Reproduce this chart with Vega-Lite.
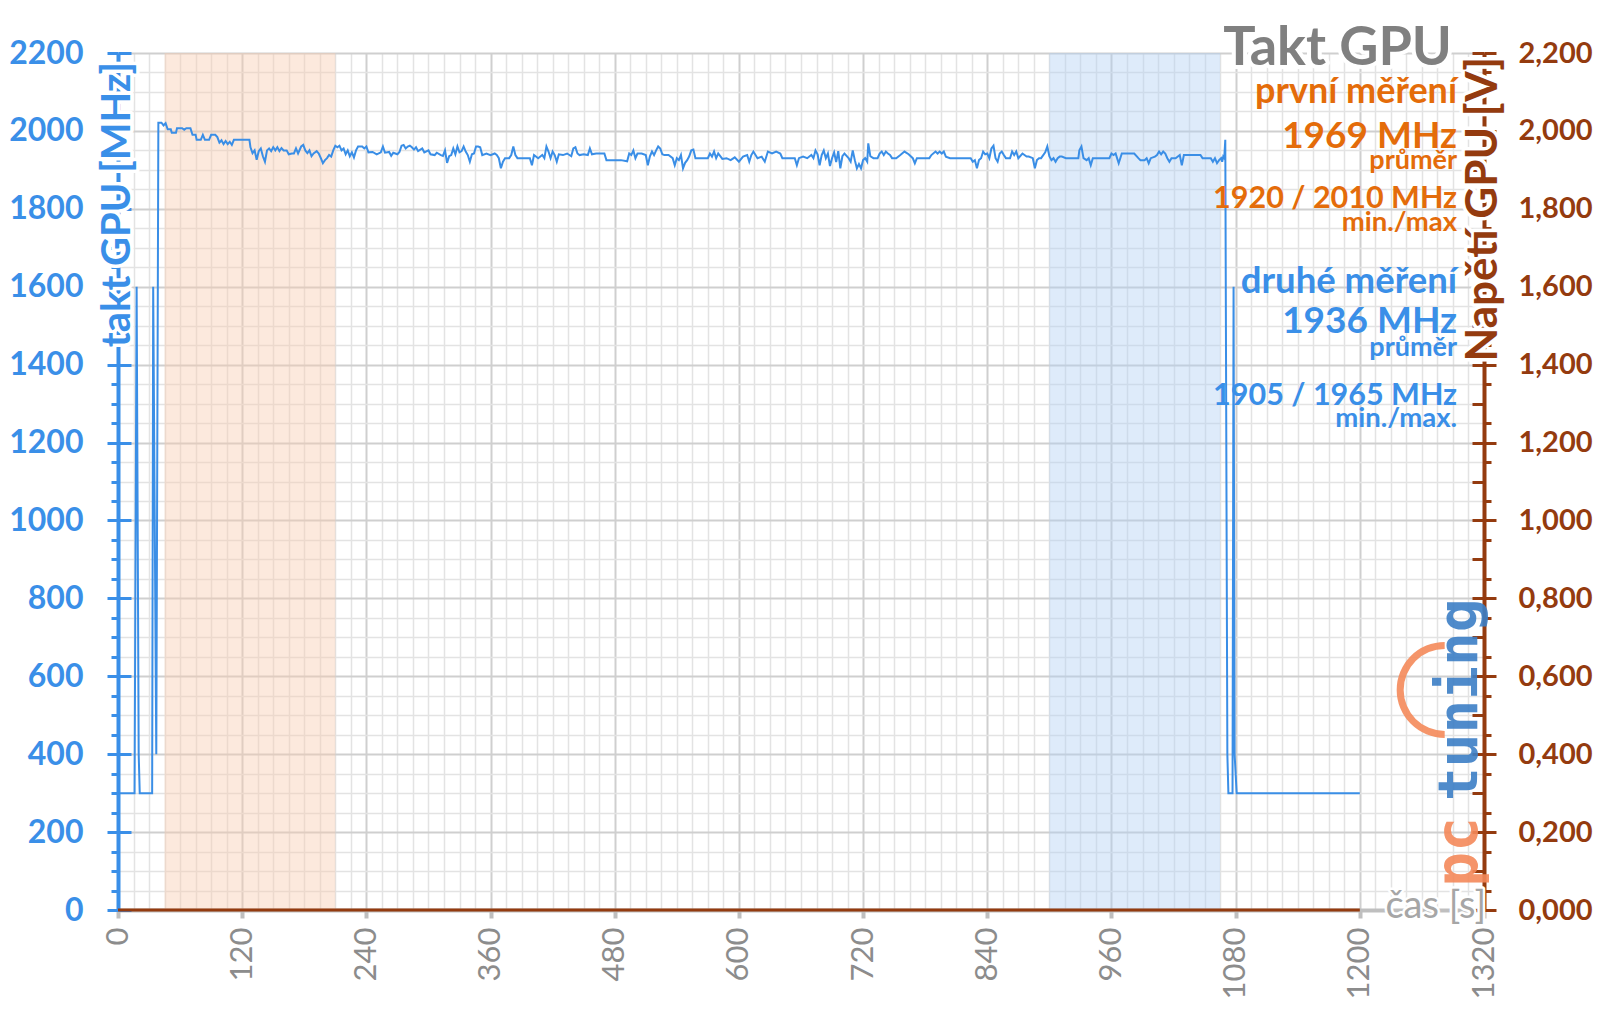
{
"$schema": "https://vega.github.io/schema/vega-lite/v6.json",
"width": 1366, "height": 857,
"autosize": {"type": "none"},
"padding": {"left": 118, "top": 53, "right": 116, "bottom": 99},
"background": "white",
"config": {"font": "Lato", "view": {"stroke": null}},
"datasets": {
"clock": [
{"t":0,"f":300},{"t":16,"f":300},{"t":18,"f":1600},{"t":20,"f":400},{"t":21,"f":300},{"t":33,"f":300},{"t":34,"f":1600},{"t":37,"f":400},{"t":39,"f":2021},
{"t":42,"f":2021},{"t":44,"f":2014},{"t":46,"f":2020},{"t":48,"f":2004},{"t":51,"f":2004},{"t":52,"f":1995},{"t":56,"f":1995},{"t":57,"f":2007},{"t":62,"f":2007},{"t":64,"f":2003},{"t":66,"f":2007},{"t":70,"f":2007},{"t":72,"f":1990},{"t":75,"f":1990},{"t":76,"f":1977},{"t":80,"f":1977},{"t":82,"f":1990},{"t":84,"f":1977},{"t":88,"f":1977},{"t":90,"f":1990},{"t":94,"f":1990},{"t":96,"f":1984},{"t":98,"f":1970},{"t":100,"f":1976},{"t":102,"f":1966},{"t":104,"f":1974},{"t":106,"f":1966},{"t":108,"f":1972},{"t":110,"f":1964},{"t":112,"f":1977},{"t":116,"f":1977},{"t":120,"f":1977},{"t":124,"f":1977},{"t":127,"f":1977},
{"t":128,"f":1958},{"t":130,"f":1943},{"t":132,"f":1950},{"t":134,"f":1926},{"t":136,"f":1948},{"t":138,"f":1955},{"t":140,"f":1935},{"t":142,"f":1921},{"t":144,"f":1950},{"t":146,"f":1955},{"t":148,"f":1948},{"t":150,"f":1958},{"t":152,"f":1950},{"t":154,"f":1958},{"t":156,"f":1948},{"t":158,"f":1956},{"t":160,"f":1950},{"t":163,"f":1950},{"t":165,"f":1940},{"t":168,"f":1942},{"t":170,"f":1942},{"t":172,"f":1955},{"t":174,"f":1942},{"t":177,"f":1960},{"t":179,"f":1964},{"t":181,"f":1950},{"t":183,"f":1943},{"t":185,"f":1950},{"t":187,"f":1935},{"t":189,"f":1942},{"t":192,"f":1948},{"t":194,"f":1942},{"t":196,"f":1930},{"t":198,"f":1917},{"t":200,"f":1925},{"t":202,"f":1930},{"t":204,"f":1938},{"t":206,"f":1934},{"t":208,"f":1950},{"t":210,"f":1962},{"t":212,"f":1958},{"t":214,"f":1962},{"t":216,"f":1950},{"t":218,"f":1955},{"t":220,"f":1940},{"t":222,"f":1950},{"t":224,"f":1935},{"t":226,"f":1945},{"t":228,"f":1932},{"t":230,"f":1950},{"t":232,"f":1960},{"t":236,"f":1960},{"t":238,"f":1955},{"t":240,"f":1960},{"t":242,"f":1945},{"t":246,"f":1946},{"t":250,"f":1940},{"t":254,"f":1945},{"t":256,"f":1960},{"t":258,"f":1944},{"t":262,"f":1946},{"t":264,"f":1936},{"t":266,"f":1944},{"t":270,"f":1940},{"t":272,"f":1946},{"t":274,"f":1962},{"t":276,"f":1964},{"t":278,"f":1955},{"t":280,"f":1960},{"t":282,"f":1962},{"t":284,"f":1958},{"t":286,"f":1952},{"t":288,"f":1958},{"t":290,"f":1948},{"t":294,"f":1955},{"t":296,"f":1945},{"t":300,"f":1950},{"t":302,"f":1940},{"t":306,"f":1938},{"t":308,"f":1944},{"t":312,"f":1938},{"t":314,"f":1936},{"t":316,"f":1950},{"t":318,"f":1918},{"t":320,"f":1935},
{"t":322,"f":1938},{"t":324,"f":1955},{"t":326,"f":1940},{"t":328,"f":1960},{"t":330,"f":1945},{"t":332,"f":1948},{"t":334,"f":1960},{"t":336,"f":1947},{"t":338,"f":1938},{"t":340,"f":1921},{"t":342,"f":1940},{"t":344,"f":1942},{"t":346,"f":1960},{"t":348,"f":1960},{"t":350,"f":1958},{"t":352,"f":1938},{"t":356,"f":1942},{"t":360,"f":1938},{"t":364,"f":1942},{"t":366,"f":1938},{"t":368,"f":1930},{"t":370,"f":1904},{"t":372,"f":1921},{"t":374,"f":1930},{"t":378,"f":1930},{"t":380,"f":1938},{"t":382,"f":1960},{"t":384,"f":1938},{"t":386,"f":1930},{"t":392,"f":1930},{"t":398,"f":1930},{"t":400,"f":1912},{"t":402,"f":1938},{"t":406,"f":1930},{"t":410,"f":1938},{"t":412,"f":1930},{"t":414,"f":1960},{"t":416,"f":1947},{"t":418,"f":1930},{"t":420,"f":1947},{"t":422,"f":1938},{"t":424,"f":1921},{"t":426,"f":1940},{"t":430,"f":1938},{"t":434,"f":1942},{"t":438,"f":1935},{"t":440,"f":1955},{"t":442,"f":1958},{"t":444,"f":1942},{"t":446,"f":1938},{"t":450,"f":1940},{"t":454,"f":1938},{"t":456,"f":1955},{"t":458,"f":1940},{"t":462,"f":1942},{"t":466,"f":1942},{"t":470,"f":1942},{"t":472,"f":1925},{"t":476,"f":1925},{"t":480,"f":1925},{"t":486,"f":1925},{"t":492,"f":1922},{"t":494,"f":1942},{"t":496,"f":1938},{"t":498,"f":1950},{"t":500,"f":1930},{"t":502,"f":1942},{"t":506,"f":1942},{"t":510,"f":1938},{"t":512,"f":1912},{"t":514,"f":1935},{"t":516,"f":1947},{"t":518,"f":1938},{"t":520,"f":1950},{"t":522,"f":1960},{"t":524,"f":1955},{"t":526,"f":1940},{"t":528,"f":1938},{"t":532,"f":1938},{"t":536,"f":1930},{"t":538,"f":1912},{"t":540,"f":1930},{"t":542,"f":1925},{"t":544,"f":1938},{"t":546,"f":1904},{"t":548,"f":1918},{"t":550,"f":1925},{"t":552,"f":1935},{"t":554,"f":1950},{"t":556,"f":1952},{"t":558,"f":1930},{"t":562,"f":1930},{"t":566,"f":1930},{"t":570,"f":1930},{"t":572,"f":1942},{"t":574,"f":1934},{"t":576,"f":1947},{"t":578,"f":1930},{"t":580,"f":1942},{"t":584,"f":1928},{"t":588,"f":1930},{"t":592,"f":1925},{"t":596,"f":1932},{"t":600,"f":1921},
{"t":604,"f":1934},{"t":608,"f":1938},{"t":610,"f":1921},{"t":612,"f":1938},{"t":614,"f":1947},{"t":618,"f":1930},{"t":622,"f":1934},{"t":625,"f":1921},{"t":628,"f":1947},{"t":632,"f":1942},{"t":636,"f":1947},{"t":640,"f":1942},{"t":642,"f":1930},{"t":646,"f":1930},{"t":650,"f":1930},{"t":654,"f":1930},{"t":656,"f":1912},{"t":658,"f":1930},{"t":662,"f":1934},{"t":666,"f":1930},{"t":670,"f":1938},{"t":672,"f":1930},{"t":674,"f":1950},{"t":676,"f":1940},{"t":678,"f":1912},{"t":680,"f":1938},{"t":682,"f":1950},{"t":684,"f":1930},{"t":686,"f":1942},{"t":688,"f":1910},{"t":690,"f":1930},{"t":692,"f":1945},{"t":694,"f":1920},{"t":696,"f":1948},{"t":698,"f":1904},{"t":700,"f":1935},{"t":702,"f":1942},{"t":706,"f":1930},{"t":708,"f":1921},{"t":710,"f":1950},{"t":712,"f":1925},{"t":714,"f":1904},{"t":716,"f":1915},{"t":718,"f":1904},{"t":720,"f":1925},{"t":722,"f":1930},{"t":724,"f":1921},{"t":725,"f":1968},{"t":727,"f":1935},{"t":730,"f":1930},{"t":734,"f":1930},{"t":736,"f":1942},{"t":738,"f":1947},{"t":740,"f":1938},{"t":742,"f":1947},{"t":744,"f":1942},{"t":746,"f":1938},{"t":748,"f":1930},{"t":752,"f":1930},{"t":756,"f":1938},{"t":760,"f":1947},{"t":764,"f":1940},{"t":768,"f":1930},{"t":770,"f":1917},{"t":772,"f":1930},{"t":776,"f":1930},{"t":780,"f":1930},{"t":784,"f":1930},{"t":786,"f":1938},{"t":790,"f":1947},{"t":792,"f":1942},{"t":794,"f":1947},{"t":796,"f":1942},{"t":798,"f":1947},{"t":800,"f":1934},{"t":804,"f":1930},{"t":808,"f":1930},{"t":812,"f":1930},{"t":816,"f":1930},{"t":820,"f":1930},{"t":824,"f":1930},{"t":826,"f":1921},{"t":828,"f":1925},{"t":830,"f":1904},{"t":832,"f":1925},{"t":834,"f":1930},{"t":836,"f":1947},{"t":838,"f":1940},{"t":840,"f":1942},{"t":842,"f":1930},{"t":844,"f":1955},{"t":846,"f":1962},{"t":848,"f":1930},{"t":850,"f":1921},{"t":852,"f":1942},{"t":854,"f":1947},{"t":856,"f":1938},{"t":858,"f":1930},{"t":862,"f":1930},{"t":864,"f":1947},{"t":866,"f":1938},{"t":868,"f":1947},{"t":870,"f":1930},{"t":874,"f":1942},{"t":878,"f":1934},{"t":880,"f":1934},
{"t":884,"f":1930},{"t":886,"f":1904},{"t":888,"f":1925},{"t":890,"f":1930},{"t":892,"f":1930},{"t":896,"f":1945},{"t":898,"f":1960},{"t":900,"f":1935},{"t":902,"f":1925},{"t":904,"f":1930},{"t":906,"f":1921},{"t":908,"f":1930},{"t":910,"f":1934},{"t":912,"f":1934},{"t":916,"f":1930},{"t":920,"f":1930},{"t":924,"f":1930},{"t":928,"f":1930},{"t":929,"f":1950},{"t":931,"f":1960},{"t":933,"f":1930},{"t":936,"f":1925},{"t":938,"f":1930},{"t":940,"f":1912},{"t":942,"f":1930},{"t":946,"f":1930},{"t":950,"f":1930},{"t":954,"f":1930},{"t":958,"f":1930},{"t":960,"f":1942},{"t":962,"f":1938},{"t":964,"f":1942},{"t":967,"f":1917},{"t":970,"f":1942},{"t":974,"f":1942},{"t":978,"f":1942},{"t":982,"f":1942},{"t":986,"f":1930},{"t":988,"f":1925},{"t":992,"f":1925},{"t":994,"f":1930},{"t":996,"f":1917},{"t":998,"f":1930},{"t":1002,"f":1934},{"t":1004,"f":1938},{"t":1006,"f":1947},{"t":1008,"f":1940},{"t":1010,"f":1947},{"t":1012,"f":1942},{"t":1014,"f":1930},{"t":1016,"f":1921},{"t":1018,"f":1930},{"t":1022,"f":1930},{"t":1026,"f":1938},{"t":1028,"f":1912},{"t":1030,"f":1938},{"t":1034,"f":1938},{"t":1038,"f":1938},{"t":1042,"f":1938},{"t":1046,"f":1938},{"t":1048,"f":1930},{"t":1052,"f":1930},{"t":1056,"f":1930},{"t":1058,"f":1921},{"t":1060,"f":1930},{"t":1062,"f":1917},{"t":1064,"f":1925},{"t":1066,"f":1930},{"t":1067,"f":1921},{"t":1068,"f":1934},{"t":1069,"f":1930},{"t":1070,"f":1977},{"t":1072,"f":400},{"t":1073,"f":300},{"t":1077,"f":300},{"t":1078,"f":1600},{"t":1079,"f":400},{"t":1081,"f":300},{"t":1200,"f":300}
],
"volt": [
{"t":0,"v":0},{"t":120,"v":0},{"t":240,"v":0},{"t":360,"v":0},{"t":480,"v":0},{"t":600,"v":0},{"t":720,"v":0},{"t":840,"v":0},{"t":960,"v":0},{"t":1080,"v":0},{"t":1200,"v":0}
],
"bands": [
{"start":45,"end":210,"kind":"první měření"},
{"start":900,"end":1065,"kind":"druhé měření"}
]
},
"layer": [
{
"data": {"name": "clock"},
"mark": {"type": "line", "strokeOpacity": 0},
"encoding": {
"x": {"field": "t", "type": "quantitative", "title": null,
"scale": {"domain": [0, 1320], "nice": false},
"axis": {"orient": "bottom", "values": [15,30,45,60,75,90,105,135,150,165,180,195,210,225,255,270,285,300,315,330,345,375,390,405,420,435,450,465,495,510,525,540,555,570,585,615,630,645,660,675,690,705,735,750,765,780,795,810,825,855,870,885,900,915,930,945,975,990,1005,1020,1035,1050,1065,1095,1110,1125,1140,1155,1170,1185,1215,1230,1245,1260,1275,1290,1305],
"labels": false, "ticks": false, "domain": false, "grid": true, "gridColor": "#e3e3e3", "gridWidth": 1.5}},
"y": {"field": "f", "type": "quantitative", "title": null,
"scale": {"domain": [0, 2200], "nice": false},
"axis": {"orient": "left", "values": [50,100,150,250,300,350,450,500,550,650,700,750,850,900,950,1050,1100,1150,1250,1300,1350,1450,1500,1550,1650,1700,1750,1850,1900,1950,2050,2100,2150],
"labels": false, "domain": false, "tickColor": "#3A8FE8", "tickWidth": 3, "tickSize": 7, "grid": true, "gridColor": "#e3e3e3", "gridWidth": 1.5}}
}
},
{
"layer": [
{
"data": {"name": "bands"},
"mark": {"type": "rect", "opacity": 0.42},
"encoding": {
"x": {"field": "start", "type": "quantitative", "title": null},
"x2": {"field": "end"},
"color": {"field": "kind", "type": "nominal", "legend": null,
"scale": {"domain": ["první měření", "druhé měření"], "range": ["#f8cbad", "#b0d0f3"]}}
}
},
{
"data": {"name": "clock"},
"mark": {"type": "line", "color": "#3A8EE6", "strokeWidth": 2},
"encoding": {
"x": {"field": "t", "type": "quantitative", "title": null,
"scale": {"domain": [0, 1320], "nice": false},
"axis": {
"orient": "bottom", "format": "d",
"values": [0,120,240,360,480,600,720,840,960,1080,1200,1320],
"labelAngle": -90, "labelAlign": "right", "labelBaseline": "middle",
"labelFont": "Lato", "labelFontSize": 31, "labelColor": "#8c8c8c", "labelPadding": 9,
"labelOverlap": false,
"domainColor": "#bfbfbf", "domainWidth": 4,
"tickColor": "#bfbfbf", "tickWidth": 4, "tickSize": 8,
"grid": true, "gridColor": "#cfcfcf", "gridWidth": 2
}
},
"y": {"field": "f", "type": "quantitative", "title": null,
"scale": {"domain": [0, 2200], "nice": false},
"axis": {
"orient": "left", "format": "d",
"values": [0,200,400,600,800,1000,1200,1400,1600,1800,2000,2200],
"labelFont": "Lato", "labelFontWeight": "bold", "labelFontSize": 32, "labelColor": "#3A8FE8",
"labelPadding": 24, "labelOverlap": false,
"domainColor": "#3A8FE8", "domainWidth": 4,
"tickColor": "#3A8FE8", "tickWidth": 3, "tickSize": 11,
"grid": true, "gridColor": "#cfcfcf", "gridWidth": 2
}
}
}
},
{
"data": {"values": [{}]},
"mark": {"type": "text", "text": "Takt GPU", "align": "right", "baseline": "alphabetic", "font": "Lato", "fontWeight": "bold", "fontSize": 54, "fill": "white", "stroke": "white", "strokeWidth": 8, "strokeJoin": "round"},
"encoding": {"x": {"datum": 1289}, "y": {"datum": 2169}}
},
{
"data": {"values": [{}]},
"mark": {"type": "text", "text": "Takt GPU", "align": "right", "baseline": "alphabetic", "font": "Lato", "fontWeight": "bold", "fontSize": 54, "color": "#808080"},
"encoding": {"x": {"datum": 1289}, "y": {"datum": 2169}}
},
{
"data": {"values": [{}]},
"mark": {"type": "text", "text": "první měření", "align": "right", "baseline": "alphabetic", "font": "Lato", "fontWeight": "bold", "fontSize": 36, "color": "#E46C0A"},
"encoding": {"x": {"datum": 1294}, "y": {"datum": 2072}}
},
{
"data": {"values": [{}]},
"mark": {"type": "text", "text": "1969 MHz", "align": "right", "baseline": "alphabetic", "font": "Lato", "fontWeight": "bold", "fontSize": 37, "color": "#E46C0A"},
"encoding": {"x": {"datum": 1294}, "y": {"datum": 1956}}
},
{
"data": {"values": [{}]},
"mark": {"type": "text", "text": "průměr", "align": "right", "baseline": "alphabetic", "font": "Lato", "fontWeight": "bold", "fontSize": 27, "color": "#E46C0A"},
"encoding": {"x": {"datum": 1294}, "y": {"datum": 1901}}
},
{
"data": {"values": [{}]},
"mark": {"type": "text", "text": "1920 / 2010 MHz", "align": "right", "baseline": "alphabetic", "font": "Lato", "fontWeight": "bold", "fontSize": 30.5, "color": "#E46C0A"},
"encoding": {"x": {"datum": 1294}, "y": {"datum": 1802}}
},
{
"data": {"values": [{}]},
"mark": {"type": "text", "text": "min./max", "align": "right", "baseline": "alphabetic", "font": "Lato", "fontWeight": "bold", "fontSize": 27.5, "color": "#E46C0A"},
"encoding": {"x": {"datum": 1294}, "y": {"datum": 1744}}
},
{
"data": {"values": [{}]},
"mark": {"type": "text", "text": "druhé měření", "align": "right", "baseline": "alphabetic", "font": "Lato", "fontWeight": "bold", "fontSize": 36.5, "color": "#3A8FE8"},
"encoding": {"x": {"datum": 1294}, "y": {"datum": 1584}}
},
{
"data": {"values": [{}]},
"mark": {"type": "text", "text": "1936 MHz", "align": "right", "baseline": "alphabetic", "font": "Lato", "fontWeight": "bold", "fontSize": 37, "color": "#3A8FE8"},
"encoding": {"x": {"datum": 1294}, "y": {"datum": 1481}}
},
{
"data": {"values": [{}]},
"mark": {"type": "text", "text": "průměr", "align": "right", "baseline": "alphabetic", "font": "Lato", "fontWeight": "bold", "fontSize": 27, "color": "#3A8FE8"},
"encoding": {"x": {"datum": 1294}, "y": {"datum": 1421}}
},
{
"data": {"values": [{}]},
"mark": {"type": "text", "text": "1905 / 1965 MHz", "align": "right", "baseline": "alphabetic", "font": "Lato", "fontWeight": "bold", "fontSize": 30.5, "color": "#3A8FE8"},
"encoding": {"x": {"datum": 1294}, "y": {"datum": 1296}}
},
{
"data": {"values": [{}]},
"mark": {"type": "text", "text": "min./max.", "align": "right", "baseline": "alphabetic", "font": "Lato", "fontWeight": "bold", "fontSize": 27.5, "color": "#3A8FE8"},
"encoding": {"x": {"datum": 1294}, "y": {"datum": 1241}}
},
{
"data": {"values": [{}]},
"mark": {"type": "text", "text": "takt GPU [MHz]", "angle": -90, "align": "right", "baseline": "middle", "font": "Lato", "fontWeight": "bold", "fontSize": 40, "fill": "white", "stroke": "white", "strokeWidth": 7, "strokeJoin": "round"},
"encoding": {"x": {"datum": 0}, "y": {"datum": 2177}}
},
{
"data": {"values": [{}]},
"mark": {"type": "text", "text": "takt GPU [MHz]", "angle": -90, "align": "right", "baseline": "middle", "font": "Lato", "fontWeight": "bold", "fontSize": 40, "color": "#3A8FE8"},
"encoding": {"x": {"datum": 0}, "y": {"datum": 2177}}
},
{
"data": {"values": [{}]},
"mark": {"type": "text", "text": "pc", "angle": -90, "align": "left", "baseline": "alphabetic", "font": "DejaVu Sans Mono", "fontWeight": "bold", "fontSize": 58, "color": "#F4895A", "opacity": 0.9},
"encoding": {"x": {"datum": 1313}, "y": {"datum": 60}}
},
{
"data": {"values": [{}]},
"mark": {"type": "text", "text": "tuning", "angle": -90, "align": "left", "baseline": "alphabetic", "font": "DejaVu Sans Mono", "fontWeight": "bold", "fontSize": 56, "color": "#3C7FC6", "opacity": 0.9},
"encoding": {"x": {"datum": 1313}, "y": {"datum": 280}}
},
{
"data": {"values": [{}]},
"mark": {"type": "arc", "radius": 48, "radius2": 41, "theta": 3.1416, "theta2": 6.2832, "color": "#F4895A", "opacity": 0.9},
"encoding": {"x": {"datum": 1282}, "y": {"datum": 565}}
},
{
"data": {"values": [{}]},
"mark": {"type": "text", "text": "Napětí GPU [V]", "angle": -90, "align": "right", "baseline": "middle", "font": "Lato", "fontWeight": "bold", "fontSize": 44, "fill": "white", "stroke": "white", "strokeWidth": 7, "strokeJoin": "round"},
"encoding": {"x": {"datum": 1320}, "y": {"datum": 2190}}
},
{
"data": {"values": [{}]},
"mark": {"type": "text", "text": "Napětí GPU [V]", "angle": -90, "align": "right", "baseline": "middle", "font": "Lato", "fontWeight": "bold", "fontSize": 44, "color": "#943B0F"},
"encoding": {"x": {"datum": 1320}, "y": {"datum": 2190}}
}
]
},
{
"layer": [
{
"data": {"name": "volt"},
"mark": {"type": "line", "color": "#943B0F", "strokeWidth": 3},
"encoding": {
"x": {"field": "t", "type": "quantitative", "title": null, "scale": {"domain": [0, 1320], "nice": false}, "axis": null},
"y": {"field": "v", "type": "quantitative", "title": null,
"scale": {"domain": [0, 2.2], "nice": false},
"axis": {
"orient": "right",
"values": [0,0.1,0.2,0.3,0.4,0.5,0.6,0.7,0.8,0.9,1,1.1,1.2,1.3,1.4,1.5,1.6,1.7,1.8,1.9,2,2.1,2.2],
"labelExpr": "replace(format(datum.value, '.3f'), '.', ',')",
"labelFont": "Lato", "labelFontWeight": "bold", "labelFontSize": 29, "labelColor": "#943B0F",
"labelPadding": 22, "labelOverlap": false,
"domainColor": "#943B0F", "domainWidth": 4,
"tickColor": "#943B0F", "tickWidth": 3, "tickSize": 12,
"grid": false
}
}
}
},
{
"data": {"values": [{}]},
"mark": {"type": "text", "text": "čas [s]", "align": "right", "baseline": "middle", "font": "Lato", "fontSize": 38, "fill": "white", "stroke": "white", "strokeWidth": 5, "strokeJoin": "round", "dy": -3},
"encoding": {"x": {"datum": 1322}, "y": {"datum": 0}}
},
{
"data": {"values": [{}]},
"mark": {"type": "text", "text": "čas [s]", "align": "right", "baseline": "middle", "font": "Lato", "fontSize": 38, "color": "#a6a6a6", "dy": -3},
"encoding": {"x": {"datum": 1322}, "y": {"datum": 0}}
}
]
},
{
"data": {"name": "clock"},
"mark": {"type": "line", "strokeOpacity": 0},
"encoding": {
"x": {"field": "t", "type": "quantitative", "title": null, "scale": {"domain": [0, 1320], "nice": false}, "axis": null},
"y": {"field": "f", "type": "quantitative", "title": null,
"scale": {"domain": [0, 2200], "nice": false},
"axis": {"orient": "left", "values": [0,200,400,600,800,1000,1200,1400,1600,1800,2000,2200], "labels": false, "domain": false, "grid": false, "tickColor": "#3A8FE8", "tickWidth": 3, "tickSize": -13}
}
}
},
{
"data": {"name": "volt"},
"mark": {"type": "line", "strokeOpacity": 0},
"encoding": {
"x": {"field": "t", "type": "quantitative", "title": null, "scale": {"domain": [0, 1320], "nice": false}, "axis": null},
"y": {"field": "v", "type": "quantitative", "title": null,
"scale": {"domain": [0, 2.2], "nice": false},
"axis": {"orient": "right", "values": [0,0.1,0.2,0.3,0.4,0.5,0.6,0.7,0.8,0.9,1,1.1,1.2,1.3,1.4,1.5,1.6,1.7,1.8,1.9,2,2.1,2.2], "labels": false, "domain": false, "grid": false, "tickColor": "#943B0F", "tickWidth": 3, "tickSize": -12}
}
}
},
{
"data": {"name": "volt"},
"mark": {"type": "line", "strokeOpacity": 0},
"encoding": {
"x": {"field": "t", "type": "quantitative", "title": null, "scale": {"domain": [0, 1320], "nice": false}, "axis": null},
"y": {"field": "v", "type": "quantitative", "title": null,
"scale": {"domain": [0, 2.2], "nice": false},
"axis": {"orient": "right", "values": [0.05,0.15,0.25,0.35,0.45,0.55,0.65,0.75,0.85,0.95,1.05,1.15,1.25,1.35,1.45,1.55,1.65,1.75,1.85,1.95,2.05,2.15], "labels": false, "domain": false, "grid": false, "tickColor": "#943B0F", "tickWidth": 3, "tickSize": 7}
}
}
}
],
"resolve": {"scale": {"x": "independent", "y": "independent"}}
}
